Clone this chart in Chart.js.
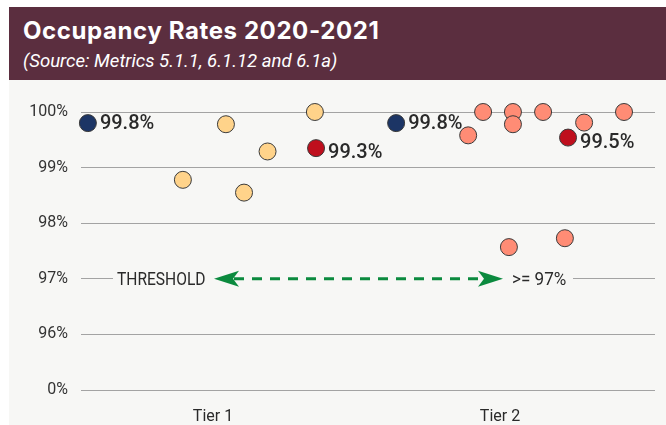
<!DOCTYPE html>
<html>
<head>
<meta charset="utf-8">
<script src="https://cdn.jsdelivr.net/npm/chart.js@4.4.1/dist/chart.umd.min.js"></script>
<style>
  html, body { margin: 0; padding: 0; background: #fff; }
  .header {
    position: absolute; left: 9px; top: 7px; width: 657px; height: 73px;
    background: #5B2E3F; color: #fff;
  }
  .title {
    position: absolute; left: 14px; top: 9px;
    font: 700 24px Inter, Roboto, sans-serif; letter-spacing: 0.6px; white-space: nowrap;
  }
  .subtitle {
    position: absolute; left: 14px; top: 43px;
    font: italic 400 18.6px Roboto, sans-serif; white-space: nowrap;
  }
  .plot {
    position: absolute; left: 9px; top: 80px; width: 657px; height: 345px;
    background: #F7F7F5;
  }
</style>
</head>
<body>
<div class="header">
  <div class="title">Occupancy Rates 2020-2021</div>
  <div class="subtitle">(Source: Metrics 5.1.1, 6.1.12 and 6.1a)</div>
</div>
<div class="plot"><canvas id="myChart" width="657" height="345"></canvas></div>
<script>
// categories and axis labels
const tiers = ['Tier 1', 'Tier 2'];
const yTickLabels = ['0%', '96%', '97%', '98%', '99%', '100%'];
const threshold = 97;

// individual programmes per tier (value %, horizontal jitter within the tier)
const tier1Values = [99.78, 98.78, 98.55, 99.29, 100.0];
const tier1Jitter = [0.045, -0.105, 0.108, 0.19, 0.355];
const tier2Values = [99.58, 100.0, 100.0, 99.78, 100.0, 99.81, 100.0, 97.57, 97.73];
const tier2Jitter = [-0.111, -0.059, 0.045, 0.045, 0.15, 0.293, 0.432, 0.031, 0.226];

// overall rate (navy) and highlighted rate (red) per tier
const overallValues = [99.8, 99.8];
const overallJitter = [-0.436, -0.362];
const highlightValues = [99.35, 99.54];
const highlightLabels = ['99.3%', '99.5%'];
const highlightJitter = [0.359, 0.237];

// broken axis: 0% at the bottom, then 96..100 evenly spaced
function toAxis(v) {
  return v >= 96 ? v - 95 : v / 96;
}

function pts(tierIdx, values, jitter) {
  return values.map((v, i) => ({ x: tierIdx + 1 + jitter[i], y: toAxis(v) }));
}

const dotStyle = {
  pointRadius: 8.5,
  pointHoverRadius: 8.5,
  pointBorderColor: '#3a3a3a',
  pointBorderWidth: 1,
  clip: false
};

function condensedText(ctx, text, x, y, scale) {
  ctx.save();
  ctx.translate(x, y);
  ctx.scale(scale, 1);
  ctx.fillText(text, 0, 0);
  ctx.restore();
}

const pointLabels = {
  id: 'pointLabels',
  afterDatasetsDraw(chart) {
    const ctx = chart.ctx;
    ctx.save();
    ctx.fillStyle = '#2a2a2a';
    ctx.font = '500 20px Roboto';
    ctx.textBaseline = 'middle';
    ctx.textAlign = 'left';
    chart.getDatasetMeta(2).data.forEach((p, i) => {
      condensedText(ctx, overallValues[i].toFixed(1) + '%', p.x + 12, p.y + 1, 1.0);
    });
    chart.getDatasetMeta(3).data.forEach((p, i) => {
      condensedText(ctx, highlightLabels[i], p.x + 12, p.y + 5, 1.0);
    });
    ctx.restore();
  }
};

const thresholdLine = {
  id: 'thresholdLine',
  beforeDatasetsDraw(chart) {
    const ctx = chart.ctx;
    const a = chart.chartArea;
    const y = chart.scales.y.getPixelForValue(toAxis(threshold));
    ctx.save();
    ctx.fillStyle = '#F7F7F5';
    ctx.fillRect(a.left + 32, y - 3, 460, 6);

    ctx.fillStyle = '#2a2a2a';
    ctx.textBaseline = 'middle';
    ctx.font = '400 19px Roboto';
    condensedText(ctx, 'THRESHOLD', a.left + 36, y + 1, 0.82);
    condensedText(ctx, '>= 97%', a.left + 431, y + 1, 0.9);

    // dashed double arrow
    const x1 = a.left + 133, x2 = a.left + 422;
    ctx.strokeStyle = '#0B8A3E';
    ctx.fillStyle = '#0B8A3E';
    ctx.lineWidth = 3;
    ctx.setLineDash([10, 8]);
    ctx.beginPath();
    ctx.moveTo(x1 + 20, y);
    ctx.lineTo(x2 - 20, y);
    ctx.stroke();
    ctx.setLineDash([]);
    [[x1, 1], [x2, -1]].forEach(([x, d]) => {
      ctx.beginPath();
      ctx.moveTo(x, y);
      ctx.lineTo(x + d * 25, y - 8);
      ctx.lineTo(x + d * 19, y);
      ctx.lineTo(x + d * 25, y + 8);
      ctx.closePath();
      ctx.fill();
    });
    ctx.restore();
  }
};

new Chart(document.getElementById('myChart'), {
  type: 'scatter',
  data: {
    datasets: [
      Object.assign({ label: 'Tier 1', data: pts(0, tier1Values, tier1Jitter), pointBackgroundColor: '#FFD38A' }, dotStyle),
      Object.assign({ label: 'Tier 2', data: pts(1, tier2Values, tier2Jitter), pointBackgroundColor: '#FF8C75' }, dotStyle),
      Object.assign({ label: 'Overall', data: pts(0, [overallValues[0]], [overallJitter[0]]).concat(pts(1, [overallValues[1]], [overallJitter[1]])), pointBackgroundColor: '#1C3565' }, dotStyle),
      Object.assign({ label: 'Highlight', data: pts(0, [highlightValues[0]], [highlightJitter[0]]).concat(pts(1, [highlightValues[1]], [highlightJitter[1]])), pointBackgroundColor: '#BF0F1D' }, dotStyle)
    ]
  },
  options: {
    responsive: false,
    animation: false,
    layout: { padding: { left: 0, right: 11, top: 32, bottom: 0 } },
    plugins: {
      legend: { display: false },
      tooltip: { enabled: false }
    },
    scales: {
      x: {
        type: 'linear',
        min: 0.54,
        max: 2.54,
        grid: { display: false },
        border: { display: false },
        afterBuildTicks: (scale) => { scale.ticks = tiers.map((t, i) => ({ value: i + 1 })); },
        afterFit: (scale) => { scale.height = 35; },
        ticks: {
          padding: 9,
          color: '#2a2a2a',
          font: { family: 'Roboto', size: 16 },
          callback: (v) => tiers[v - 1]
        }
      },
      y: {
        type: 'linear',
        min: 0,
        max: 5,
        border: { display: false },
        grid: { color: '#a3a3a3', lineWidth: 1, drawTicks: false },
        afterFit: (scale) => { scale.width = 72; },
        ticks: {
          stepSize: 1,
          padding: 13,
          color: '#333',
          font: { family: 'Roboto', size: 16 },
          callback: (v) => yTickLabels[v]
        }
      }
    }
  },
  plugins: [thresholdLine, pointLabels]
});
</script>
</body>
</html>
